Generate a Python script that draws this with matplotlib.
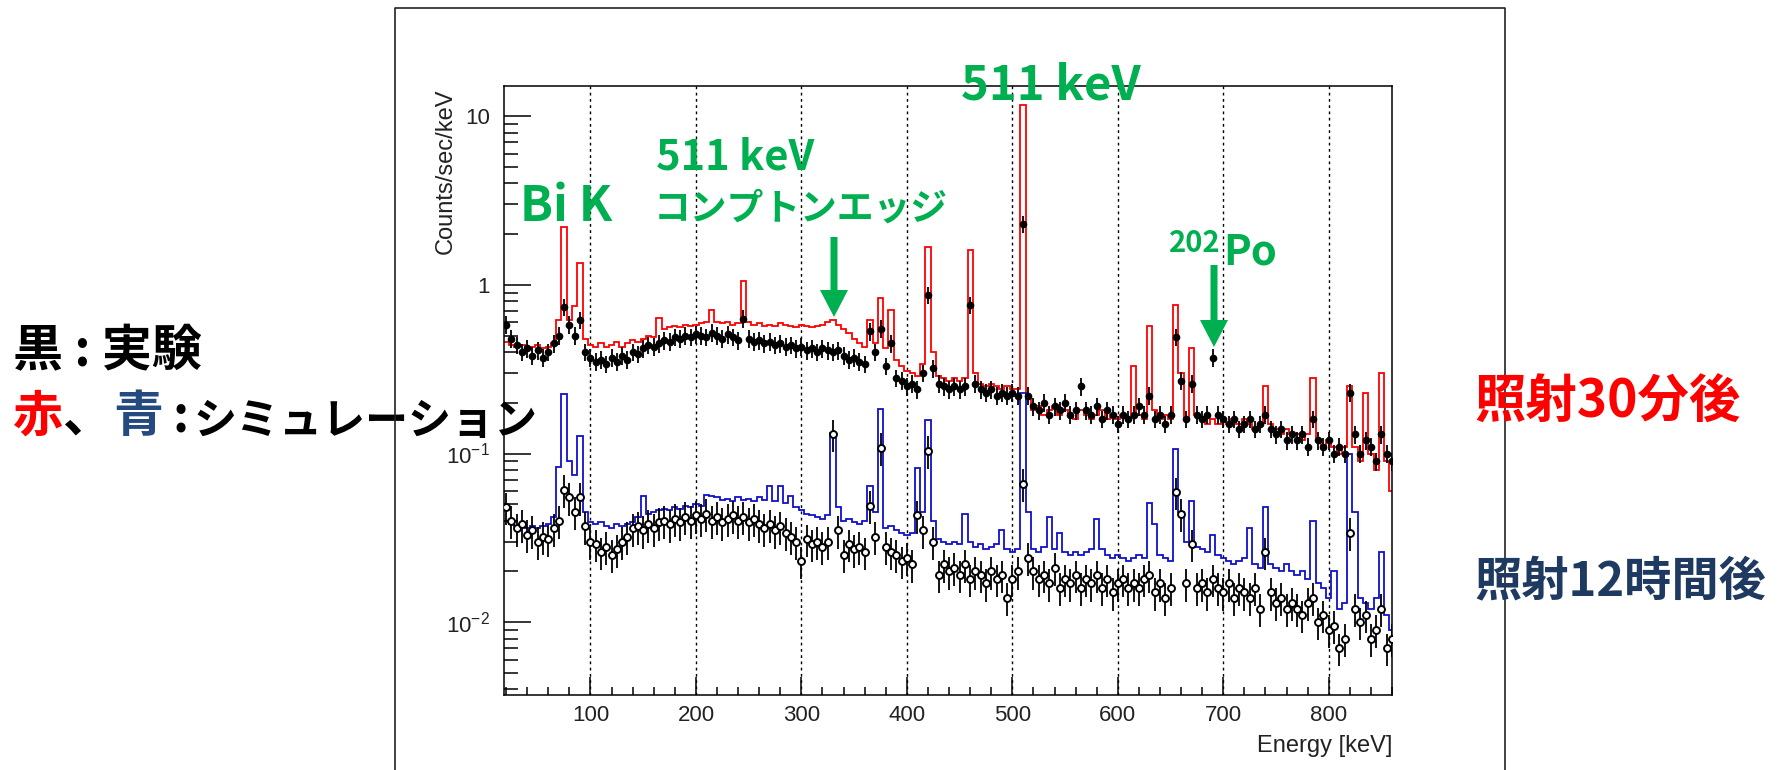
import numpy as np
import matplotlib
import matplotlib.pyplot as plt
from matplotlib.ticker import MultipleLocator, FixedLocator, FixedFormatter, LogLocator, NullFormatter
from matplotlib.patches import FancyArrow
from matplotlib.lines import Line2D
from matplotlib.transforms import IdentityTransform
matplotlib.use('Agg')

plt.rcParams['font.family'] = ['Liberation Sans', 'Noto Sans CJK JP', 'DejaVu Sans']
plt.rcParams['mathtext.default'] = 'regular'

# bin centres [keV], 5 keV bins
energy = np.arange(20, 861, 5)

# Counts/sec/keV, 30 min after irradiation -- simulation (red histogram)
sim_30min = [
    0.46, 0.44, 0.43, 0.44, 0.42, 0.43, 0.44, 0.42, 0.43, 0.45,   # 20-65
    0.62, 2.20, 0.62, 0.75, 1.35, 0.48, 0.44, 0.43, 0.45, 0.43,   # 70-115
    0.44, 0.46, 0.43, 0.45, 0.47, 0.46, 0.48, 0.50, 0.49, 0.64,   # 120-165
    0.55, 0.56, 0.57, 0.56, 0.58, 0.57, 0.58, 0.59, 0.60, 0.71,   # 170-215
    0.60, 0.59, 0.60, 0.58, 0.59, 1.06, 0.60, 0.58, 0.59, 0.57,   # 220-265
    0.58, 0.57, 0.59, 0.58, 0.57, 0.56, 0.58, 0.57, 0.56, 0.57,   # 270-315
    0.58, 0.60, 0.62, 0.58, 0.55, 0.52, 0.48, 0.45, 0.43, 0.62,   # 320-365
    0.45, 0.83, 0.42, 0.71, 0.36, 0.33, 0.31, 0.30, 0.29, 0.34,   # 370-415
    1.68, 0.40, 0.29, 0.28, 0.27, 0.28, 0.27, 0.28, 1.62, 0.30,   # 420-465
    0.26, 0.25, 0.26, 0.25, 0.24, 0.25, 0.24, 0.24, 11.6, 0.21,   # 470-515
    0.18, 0.19, 0.17, 0.18, 0.19, 0.17, 0.18, 0.17, 0.16, 0.18,   # 520-565
    0.17, 0.16, 0.17, 0.18, 0.16, 0.17, 0.16, 0.17, 0.16, 0.33,   # 570-615
    0.17, 0.16, 0.57, 0.18, 0.16, 0.17, 0.16, 0.76, 0.30, 0.16,   # 620-665
    0.42, 0.17, 0.16, 0.15, 0.16, 0.15, 0.16, 0.15, 0.16, 0.15,   # 670-715
    0.16, 0.15, 0.14, 0.15, 0.25, 0.15, 0.14, 0.13, 0.14, 0.13,   # 720-765
    0.13, 0.12, 0.13, 0.28, 0.12, 0.11, 0.12, 0.11, 0.10, 0.11,   # 770-815
    0.25, 0.11, 0.09, 0.23, 0.10, 0.08, 0.30, 0.09, 0.06,         # 820-860
]

# 30 min after irradiation -- measurement (filled points)
exp_30min = [
    0.58, 0.48, 0.44, 0.40, 0.42, 0.38, 0.41, 0.37, 0.40, 0.45,
    0.50, 0.74, 0.58, 0.50, 0.62, 0.40, 0.37, 0.35, 0.36, 0.34,
    0.37, 0.35, 0.38, 0.36, 0.40, 0.39, 0.42, 0.44, 0.43, 0.45,
    0.47, 0.46, 0.49, 0.48, 0.50, 0.49, 0.51, 0.50, 0.49, 0.52,
    0.50, 0.48, 0.51, 0.49, 0.47, 0.63, 0.48, 0.46, 0.47, 0.45,
    0.46, 0.44, 0.45, 0.43, 0.44, 0.42, 0.43, 0.41, 0.42, 0.40,
    0.42, 0.41, 0.40, 0.41, 0.38, 0.36, 0.37, 0.35, 0.34, 0.53,
    0.40, 0.55, 0.33, 0.45, 0.28, 0.27, 0.25, 0.26, 0.24, 0.30,
    0.87, 0.32, 0.26, 0.25, 0.24, 0.25, 0.24, 0.25, 0.76, 0.26,
    0.24, 0.23, 0.24, 0.22, 0.23, 0.22, 0.23, 0.22, 2.30, 0.22,
    0.19, 0.18, 0.20, 0.17, 0.19, 0.18, 0.20, 0.17, 0.18, 0.25,
    0.18, 0.17, 0.19, 0.16, 0.18, 0.17, 0.15, 0.17, 0.16, 0.17,
    0.19, 0.17, 0.22, 0.16, 0.17, 0.15, 0.17, 0.49, 0.27, 0.16,
    0.26, 0.17, 0.16, 0.17, 0.37, 0.17, 0.16, 0.15, 0.16, 0.14,
    0.15, 0.16, 0.14, 0.15, 0.17, 0.14, 0.13, 0.14, 0.12, 0.13,
    0.12, 0.13, 0.11, 0.16, 0.12, 0.11, 0.12, 0.10, 0.11, 0.10,
    0.23, 0.13, 0.10, 0.12, 0.11, 0.09, 0.13, 0.10, 0.09,
]

# 12 h after irradiation -- simulation (blue histogram)
sim_12h = [
    0.040, 0.038, 0.037, 0.038, 0.036, 0.037, 0.036, 0.037, 0.038, 0.042,
    0.083, 0.224, 0.090, 0.075, 0.127, 0.045, 0.039, 0.038, 0.039, 0.037,
    0.036, 0.038, 0.037, 0.038, 0.039, 0.042, 0.056, 0.044, 0.045, 0.046,
    0.047, 0.046, 0.048, 0.047, 0.049, 0.048, 0.050, 0.049, 0.057, 0.056,
    0.055, 0.053, 0.054, 0.052, 0.055, 0.053, 0.054, 0.052, 0.055, 0.053,
    0.064, 0.052, 0.064, 0.051, 0.056, 0.048, 0.046, 0.044, 0.043, 0.042,
    0.041, 0.043, 0.133, 0.048, 0.040, 0.041, 0.039, 0.038, 0.040, 0.064,
    0.045, 0.183, 0.036, 0.037, 0.035, 0.034, 0.033, 0.034, 0.082, 0.045,
    0.158, 0.040, 0.031, 0.030, 0.029, 0.030, 0.029, 0.044, 0.030, 0.028,
    0.029, 0.027, 0.028, 0.029, 0.035, 0.027, 0.026, 0.027, 0.230, 0.045,
    0.027, 0.026, 0.028, 0.042, 0.027, 0.034, 0.026, 0.025, 0.026, 0.025,
    0.026, 0.027, 0.041, 0.027, 0.025, 0.024, 0.025, 0.024, 0.023, 0.024,
    0.025, 0.024, 0.051, 0.038, 0.025, 0.024, 0.023, 0.107, 0.045, 0.030,
    0.052, 0.028, 0.027, 0.026, 0.033, 0.025, 0.024, 0.023, 0.022, 0.023,
    0.024, 0.036, 0.022, 0.021, 0.048, 0.022, 0.021, 0.020, 0.022, 0.020,
    0.019, 0.020, 0.018, 0.040, 0.017, 0.016, 0.014, 0.020, 0.012, 0.013,
    0.100, 0.045, 0.014, 0.013, 0.012, 0.014, 0.026, 0.011, 0.009,
]

# 12 h after irradiation -- measurement (open points)
exp_12h = [
    0.048, 0.040, 0.036, 0.038, 0.033, 0.035, 0.030, 0.032, 0.031, 0.036,
    0.040, 0.061, 0.055, 0.045, 0.055, 0.037, 0.030, 0.029, 0.026, 0.028,
    0.025, 0.027, 0.030, 0.032, 0.036, 0.037, 0.035, 0.038, 0.036, 0.039,
    0.040, 0.038, 0.041, 0.039, 0.042, 0.040, 0.043, 0.041, 0.044, 0.040,
    0.042, 0.039, 0.041, 0.043, 0.040, 0.042, 0.039, 0.041, 0.038, 0.036,
    0.038, 0.035, 0.037, 0.034, 0.032, 0.030, 0.023, 0.031, 0.029, 0.030,
    0.028, 0.030, 0.130, 0.035, 0.025, 0.029, 0.027, 0.028, 0.026, 0.049,
    0.032, 0.108, 0.028, 0.026, 0.025, 0.023, 0.024, 0.022, 0.043, 0.035,
    0.104, 0.030, 0.019, 0.022, 0.020, 0.021, 0.019, 0.022, 0.018, 0.020,
    0.019, 0.017, 0.020, 0.018, 0.019, 0.014, 0.018, 0.020, 0.066, 0.024,
    0.020, 0.018, 0.019, 0.017, 0.021, 0.016, 0.018, 0.017, 0.019, 0.016,
    0.018, 0.017, 0.019, 0.016, 0.018, 0.015, 0.017, 0.018, 0.016, 0.017,
    0.016, 0.018, 0.019, 0.015, 0.017, 0.014, 0.016, 0.059, 0.044, 0.017,
    0.029, 0.016, 0.017, 0.015, 0.018, 0.016, 0.015, 0.017, 0.014, 0.016,
    0.015, 0.014, 0.016, 0.012, 0.026, 0.015, 0.013, 0.014, 0.012, 0.013,
    0.012, 0.011, 0.013, 0.014, 0.010, 0.011, 0.009, 0.0095, 0.007, 0.008,
    0.034, 0.012, 0.010, 0.011, 0.008, 0.009, 0.012, 0.007, 0.008,
]

# relative statistical errors of the measurements
rel_err_30min = 0.12
rel_err_12h = 0.22

ytick_vals = [0.01, 0.1, 1, 10]
ytick_labels = [r'$10^{-2}$', r'$10^{-1}$', '1', '10']

W, H = 1779, 770
GREEN = '#00b050'
NAVY = '#1f3a60'
JP = ['Noto Sans CJK JP', 'DejaVu Sans']


def fx(px):
    return px / W


def fy(py):
    return 1 - py / H


fig = plt.figure(figsize=(W / 100, H / 100), dpi=100)
ax = fig.add_axes([fx(504), fy(695), (1392 - 504) / W, (695 - 86) / H])

e = np.asarray(energy, dtype=float)
edges = np.append(e - 2.5, e[-1] + 2.5)

ax.stairs(sim_30min, edges, baseline=None, color='red', lw=1.3, zorder=2)
ax.stairs(sim_12h, edges, baseline=None, color='#1010cc', lw=1.3, zorder=2)

y30 = np.asarray(exp_30min)
y12 = np.asarray(exp_12h)
ax.errorbar(e, y30, yerr=y30 * rel_err_30min, xerr=1.5, fmt='o', ms=4.5,
             color='black', elinewidth=1.3, capsize=0, zorder=3)
ax.errorbar(e, y12, yerr=y12 * rel_err_12h, xerr=1.5, fmt='o', ms=5,
             color='black', mfc='white', mec='black', mew=1.4,
             elinewidth=1.3, capsize=0, zorder=3)

ax.set_yscale('log')
ax.set_xlim(18, 860)
ax.set_ylim(0.0037, 15.1)

ax.xaxis.set_major_locator(MultipleLocator(100))
ax.xaxis.set_minor_locator(MultipleLocator(20))
ax.yaxis.set_major_locator(FixedLocator(ytick_vals))
ax.yaxis.set_major_formatter(FixedFormatter(ytick_labels))
ax.yaxis.set_minor_locator(LogLocator(base=10, subs=np.arange(2, 10)))
ax.yaxis.set_minor_formatter(NullFormatter())

ax.tick_params(which='both', direction='in', top=False, right=False,
               colors='black', labelcolor='#222222', width=1.1)
ax.tick_params(axis='x', which='major', length=13, pad=7, labelsize=16)
ax.tick_params(axis='x', which='minor', length=6)
ax.tick_params(axis='y', which='major', length=19.5, pad=10, labelsize=16)
ax.tick_params(axis='y', which='minor', length=10)
for sp in ax.spines.values():
    sp.set_linewidth(1.1)

ax.grid(axis='x', which='major', color='black', ls=(0, (2, 2.5)), lw=1)

fig.text(fx(446), fy(88), 'Counts/sec/keV', rotation=90, ha='center', va='top',
         fontsize=17, color='#222222')
fig.text(fx(1392), fy(752), 'Energy [keV]', ha='right', va='baseline',
         fontsize=17, color='#222222')

# outer slide frame
fig.add_artist(Line2D([395, 395, 1505, 1505], [-5, H - 8, H - 8, -5],
                      transform=IdentityTransform(), color='#222222', lw=1.2))

# green annotations
gkw = dict(color=GREEN, family=JP, va='baseline', fontweight='bold')
fig.text(fx(961), fy(99), '511 keV', fontsize=34, **gkw)
fig.text(fx(656), fy(169), '511 keV', fontsize=30, **gkw)
fig.text(fx(654), fy(220), 'コンプトンエッジ', fontsize=26.5, **gkw)
fig.text(fx(520), fy(221), 'Bi K', fontsize=35, **gkw)
fig.text(fx(1221), fy(252), '202', fontsize=21, ha='right', **gkw)
fig.text(fx(1223), fy(265), 'Po', fontsize=30, **gkw)

for x0, y_tail, y_tip in [(834, 237, 317), (1214, 265, 347)]:
    fig.add_artist(FancyArrow(x0, H - y_tail, 0, -(y_tip - y_tail), width=7,
                              head_width=28, head_length=27, length_includes_head=True,
                              color=GREEN, lw=0, transform=IdentityTransform()))

# left legend text
lkw = dict(family=JP, fontweight='bold', annotation_clip=False)
fig.text(fx(13), fy(352), '黒 : 実験', fontsize=36, family=JP, va='center', fontweight='bold')
t = fig.text(fx(13), fy(417), '赤', fontsize=36, family=JP, va='center', color='red',
             fontweight='bold')
t = ax.annotate('、', xy=(1, 0), xycoords=t, va='bottom', fontsize=36, **lkw)
t = ax.annotate('青', xy=(1, 0), xycoords=t, va='bottom', fontsize=36, color='#244a80', **lkw)
t = ax.annotate(':', xy=(1, 0), xycoords=t, xytext=(7, 0), textcoords='offset points',
                va='bottom', fontsize=36, **lkw)
ax.annotate('シミュレーション', xy=(1, 0), xycoords=t, xytext=(3, 0), textcoords='offset points',
            va='bottom', fontsize=31, **lkw)

# right labels
fig.text(fx(1474), fy(402), '照射30分後', fontsize=37, family=JP, va='center', color='red',
         fontweight='bold')
fig.text(fx(1474), fy(581), '照射12時間後', fontsize=34, family=JP, va='center', color=NAVY,
         fontweight='bold')

fig.savefig('out.png', dpi=100)
